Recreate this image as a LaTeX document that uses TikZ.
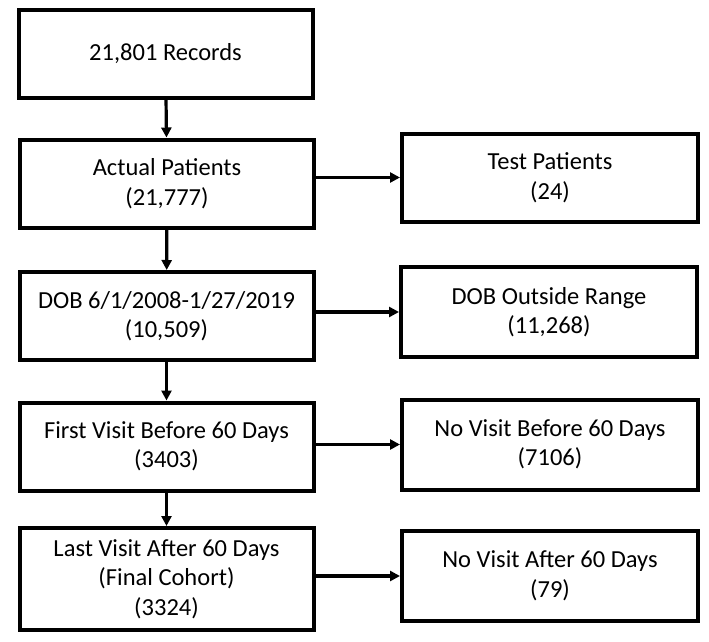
\documentclass[tikz,border=0pt]{standalone}
\usepackage{fontspec}
\setmainfont{Carlito}
\usetikzlibrary{arrows.meta,positioning}

\begin{document}
\begin{tikzpicture}[x=1pt, y=-1pt,
  box/.style={draw, line width=4pt, align=center, inner sep=0pt, minimum width=294pt, minimum height=88pt, font=\fontsize{24.5}{29.5}\selectfont},
  arr/.style={-{Triangle[length=10pt,width=10pt]}, line width=3.2pt},
]
  \useasboundingbox (0,0) rectangle (709,642);

  % Left column (kept records)
  \node[box] (rec) at (165.5,54) {21,801 Records};
  \node[box] (act) at (167,183.5) {Actual Patients\\(21,777)};
  \node[box] (dob) at (166.5,316) {DOB 6/1/2008-1/27/2019\\(10,509)};
  \node[box] (first) at (166.5,446.5) {First Visit Before 60 Days\\(3403)};
  \node[box, minimum height=102pt] (last) at (166.5,579) {Last Visit After 60 Days\\(Final Cohort)\\(3324)};

  % Right column (excluded records)
  \node[box, minimum width=296pt] (test) at (550,177.5) {Test Patients\\(24)};
  \node[box, minimum width=296pt, minimum height=90pt] (out) at (549,312) {DOB Outside Range\\(11,268)};
  \node[box, minimum width=296pt, minimum height=90pt] (nobef) at (550,444.5) {No Visit Before 60 Days\\(7106)};
  \node[box, minimum width=296pt, minimum height=90pt] (noaft) at (550,576) {No Visit After 60 Days\\(79)};

  % Flow down
  \draw[arr] (rec) -- (act);
  \draw[arr] (act) -- (dob);
  \draw[arr] (dob) -- (first);
  \draw[arr] (first) -- (last);

  % Exclusions
  \draw[arr] (test.west -| act.east) -- (test.west);
  \draw[arr] (out.west -| dob.east) -- (out.west);
  \draw[arr] (nobef.west -| first.east) -- (nobef.west);
  \draw[arr] (noaft.west -| last.east) -- (noaft.west);
\end{tikzpicture}
\end{document}
